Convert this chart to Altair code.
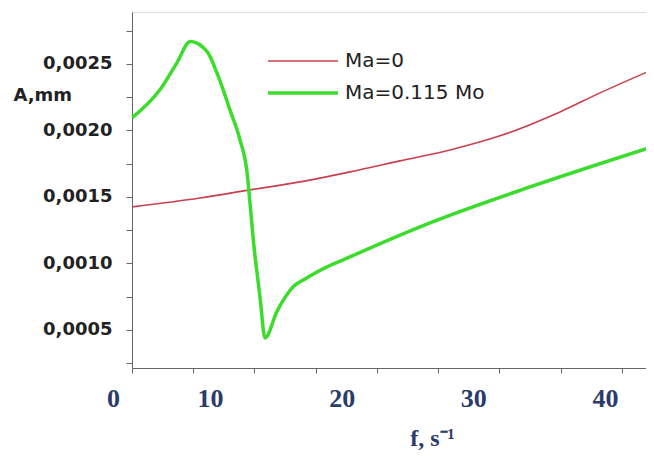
import altair as alt
import pandas as pd

# ---- data ----
series_names = ["Ma=0", "Ma=0.115 Mo"]

red_f = [4.08, 9.24, 13.04, 16.84, 20.63, 24.43, 28.23, 32.02, 36.58, 39.62, 43.57]
red_A = [0.001425, 0.001492, 0.001553, 0.001613, 0.001688, 0.001771, 0.001853,
         0.001959, 0.002139, 0.002282, 0.002455]

green_f = [4.08, 6.20, 7.49, 8.50, 9.80, 10.53, 11.52, 12.28, 12.81, 13.04,
           13.27, 13.80, 14.18, 15.09, 15.70, 16.30, 17.22, 18.13, 20.63,
           26.71, 34.30, 43.57]
green_A = [0.002094, 0.002305, 0.002508, 0.002668, 0.002590, 0.002432,
           0.002154, 0.001929, 0.001688, 0.001455, 0.001199, 0.000748, 0.000440,
           0.000640, 0.000745, 0.000823, 0.000883, 0.000936, 0.001049,
           0.001305, 0.001575, 0.001876]

x_domain = [4.08, 43.11]
y_domain = [0.000214, 0.00289]
x_tick_values = [4.08, 8.71, 10, 13.34, 18.05, 20, 22.68, 27.32, 30, 31.95, 36.66, 40, 41.29]
y_tick_values = [round(i * 0.00025, 5) for i in range(1, 12)]

df = pd.concat([
    pd.DataFrame({"f": red_f, "A": red_A, "series": series_names[0], "order": range(len(red_f))}),
    pd.DataFrame({"f": green_f, "A": green_A, "series": series_names[1], "order": range(len(green_f))}),
])

navy = "#2b3b6a"
is_label = "indexof([10,20,30,40], datum.value) >= 0"

x_axis = alt.Axis(
    values=x_tick_values,
    labelExpr="datum.value < 5 ? '0' : (" + is_label + " ? format(datum.value, 'd') : '')",
    labelOverlap=False,
    labelFlush=False,
    grid=False,
    tickSize=5,
    tickColor="#666",
    domainColor="#666",
    tickOpacity={"condition": {"test": is_label, "value": 0}, "value": 1},
    labelOffset={"condition": {"test": "datum.value < 5", "value": -19}, "value": 0},
    labelFont="Liberation Serif",
    labelFontWeight="bold",
    labelFontSize=26,
    labelColor=navy,
    labelPadding=12,
    title="f, s⁻¹",
    titleFont="Liberation Serif",
    titleFontWeight="bold",
    titleFontSize=24,
    titleColor=navy,
    titleX=300,
    titleY=77,
    titleBaseline="alphabetic",
    titleAlign="center",
)

y_axis = alt.Axis(
    values=y_tick_values,
    labelExpr="round(datum.value*4000) % 2 == 0 ? replace(format(datum.value, '.4f'), '.', ',') : ''",
    labelOverlap=False,
    labelFlush=False,
    grid=False,
    tickSize=6,
    tickColor="#666",
    domainColor="#666",
    labelFont="DejaVu Sans",
    labelFontWeight="bold",
    labelFontSize=18,
    labelColor="#222",
    labelPadding=14,
    title="A,mm",
    titleFont="DejaVu Sans",
    titleFontWeight="bold",
    titleFontSize=18,
    titleColor="#222",
    titleAngle=0,
    titleAlign="left",
    titleBaseline="alphabetic",
    titleX=-119,
    titleY=88,
)

legend = alt.Legend(
    title=None,
    orient="none",
    legendX=159,
    legendY=38,
    symbolType="M-3.5,0H3.5",
    symbolSize=400,
    labelOffset=30,
    rowPadding=10,
    labelFont="DejaVu Sans",
    labelFontSize=20,
    labelColor="#222",
    padding=0,
)

chart = alt.Chart(df).mark_line(interpolate="monotone", clip=True).encode(
    x=alt.X("f:Q", scale=alt.Scale(domain=x_domain, nice=False, zero=False), axis=x_axis),
    y=alt.Y("A:Q", scale=alt.Scale(domain=y_domain, nice=False, zero=False), axis=y_axis),
    color=alt.Color("series:N", scale=alt.Scale(domain=series_names, range=["#c8404f", "#3bdc2b"]), legend=legend),
    strokeWidth=alt.StrokeWidth("series:N", scale=alt.Scale(domain=series_names, range=[1.6, 3.5]), legend=legend),
    order="order:Q",
    detail="series:N",
).properties(
    width=514,
    height=356,
    padding={"left": 5, "top": 4, "right": 0, "bottom": 0},
).configure_view(stroke=None).configure(background="white")

chart.save("out.html", embed_options={"renderer": "svg", "actions": False})
